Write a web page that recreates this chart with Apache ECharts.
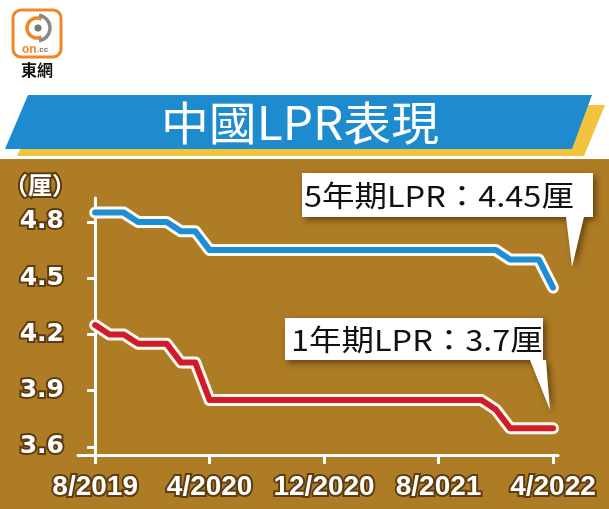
<!DOCTYPE html>
<html>
<head>
<meta charset="utf-8">
<script src="https://cdn.jsdelivr.net/npm/echarts@6/dist/echarts.min.js"></script>
<style>
html,body{margin:0;padding:0;background:#fff;}
#c{width:609px;height:509px;}
</style>
</head>
<body>
<div id="c"></div>
<script>
// ---- data ----
var months = ['2019-08','2019-09','2019-10','2019-11','2019-12','2020-01','2020-02','2020-03','2020-04',
  '2020-05','2020-06','2020-07','2020-08','2020-09','2020-10','2020-11','2020-12',
  '2021-01','2021-02','2021-03','2021-04','2021-05','2021-06','2021-07','2021-08',
  '2021-09','2021-10','2021-11','2021-12','2022-01','2022-02','2022-03','2022-04'];
var lpr5y = [4.85,4.85,4.85,4.80,4.80,4.80,4.75,4.75,4.65,
  4.65,4.65,4.65,4.65,4.65,4.65,4.65,4.65,
  4.65,4.65,4.65,4.65,4.65,4.65,4.65,4.65,
  4.65,4.65,4.65,4.65,4.60,4.60,4.60,4.45];
var lpr1y = [4.25,4.20,4.20,4.15,4.15,4.15,4.05,4.05,3.85,
  3.85,3.85,3.85,3.85,3.85,3.85,3.85,3.85,
  3.85,3.85,3.85,3.85,3.85,3.85,3.85,3.85,
  3.85,3.85,3.85,3.80,3.70,3.70,3.70,3.70];
var tickMonths = ['2019-08','2020-04','2020-12','2021-08','2022-04'];
var tickLabels = ['8/2019','4/2020','12/2020','8/2021','4/2022'];
var yTicks = [3.6,3.9,4.2,4.5,4.8];
var titleText = '中國LPR表現';
var unitText = '（厘）';
var note5y = '5年期LPR：4.45厘';
var note1y = '1年期LPR：3.7厘';

// ---- build ----
var tickIdx = tickMonths.map(function(m){ return months.indexOf(m); });
function pairs(arr){ return arr.map(function(v,i){ return [i, v]; }); }

var chart = echarts.init(document.getElementById('c'), null, {renderer:'canvas'});
var haloColor = '#5e3c10';
var option = {
  animation:false,
  backgroundColor:'#ffffff',
  grid:{left:78, right:51, top:198, bottom:54, containLabel:false},
  xAxis:{
    type:'value', min:-1.2, max:32.35,
    axisLine:{show:true, lineStyle:{color:'#fff', width:3}},
    axisTick:{show:true, customValues:tickIdx, length:9, lineStyle:{color:'#fff', width:3}},
    axisLabel:{customValues:tickIdx, margin:18,
      formatter:function(v){ var k = tickIdx.indexOf(Math.round(v)); return k>=0 ? tickLabels[k] : ''; },
      color:'#fff', fontFamily:'Liberation Sans, Arial, sans-serif', fontWeight:'bold', fontSize:28,
      textBorderColor:haloColor, textBorderWidth:4},
    splitLine:{show:false}
  },
  yAxis:{
    type:'value', min:3.557, max:4.928,
    axisLine:{show:true, lineStyle:{color:'#fff', width:3}},
    axisTick:{show:true, customValues:yTicks, length:8, lineStyle:{color:'#fff', width:3}},
    axisLabel:{customValues:yTicks, margin:14,
      formatter:function(v){ return v.toFixed(1); },
      color:'#fff', fontFamily:'DejaVu Sans, sans-serif', fontWeight:'bold', fontSize:25,
      textBorderColor:haloColor, textBorderWidth:4},
    splitLine:{show:false}
  },
  series:[
    {type:'line', data:pairs(lpr5y), symbol:'none', z:3, silent:true,
      lineStyle:{color:'#fffaf0', width:12, cap:'round', join:'round'}},
    {type:'line', data:pairs(lpr1y), symbol:'none', z:3, silent:true,
      lineStyle:{color:'#fffaf0', width:12, cap:'round', join:'round'}},
    {type:'line', name:'5年期LPR', data:pairs(lpr5y), symbol:'none', z:4,
      lineStyle:{color:'#1d8dd6', width:6, cap:'round', join:'round'}},
    {type:'line', name:'1年期LPR', data:pairs(lpr1y), symbol:'none', z:4,
      lineStyle:{color:'#d01c2a', width:6, cap:'round', join:'round'}}
  ],
  graphic:[
    // brown panel
    {type:'rect', z:-10, shape:{x:0, y:159, width:609, height:350}, style:{fill:'#ad7c25'}},
    // banner
    {type:'polygon', z:1, shape:{points:[[40,105],[605,105],[584,156],[17,156]]}, style:{fill:'#f2c43e'}},
    {type:'polygon', z:2, shape:{points:[[28,95],[592,95],[572,149],[5,149]]}, style:{fill:'#1e8bcf'}},
    {type:'text', z:3, x:300, y:123, scaleX:1.04, style:{text:titleText, x:0, y:0, align:'center', verticalAlign:'middle',
      fill:'#fff', font:'normal 46px "Noto Sans CJK TC", sans-serif'}},
    // logo
    {type:'rect', z:3, shape:{x:13, y:10, width:48, height:47, r:8}, style:{fill:'#fff', stroke:'#f0862a', lineWidth:3}},
    {type:'arc', z:4, shape:{cx:37, cy:28, r:10, startAngle:Math.PI*0.35, endAngle:Math.PI*1.65}, style:{stroke:'#f0862a', lineWidth:3.5, fill:null}},
    {type:'arc', z:4, shape:{cx:37, cy:28, r:13, startAngle:-Math.PI*0.45, endAngle:Math.PI*0.45}, style:{stroke:'#888', lineWidth:3.5, fill:null}},
    {type:'circle', z:4, shape:{cx:38, cy:28, r:3.5}, style:{fill:'#777'}},
    {type:'text', z:4, style:{text:'on', x:22, y:50, verticalAlign:'middle', fill:'#f0862a', font:'bold 12px "Liberation Sans", sans-serif'}},
    {type:'text', z:4, style:{text:'.cc', x:37, y:50, verticalAlign:'middle', fill:'#777', font:'bold 8px "Liberation Sans", sans-serif'}},
    {type:'text', z:4, style:{text:'東網', x:37, y:70, align:'center', verticalAlign:'middle', fill:'#111', font:'bold 16px "Noto Sans CJK TC", sans-serif'}},
    // unit
    {type:'text', z:5, style:{text:unitText, x:40, y:185, align:'center', verticalAlign:'middle',
      fill:'#fff', stroke:haloColor, lineWidth:4, font:'bold 24px "Noto Sans CJK TC", sans-serif'}},
    // callout 5y
    {type:'polygon', z:10, shape:{points:[[302,173],[593,173],[593,217],[584,217],[572,267],[566,217],[302,217]]},
      style:{fill:'#fff', shadowBlur:6, shadowOffsetX:3, shadowOffsetY:3, shadowColor:'rgba(40,20,0,0.55)'}},
    {type:'text', z:11, x:304, y:196, scaleX:1.12, style:{text:note5y, x:0, y:0, verticalAlign:'middle', fill:'#111',
      font:'normal 29px "Noto Sans CJK TC", sans-serif'}},
    // callout 1y
    {type:'polygon', z:10, shape:{points:[[285,318],[543,318],[543,360],[546,360],[550,410],[530,360],[285,360]]},
      style:{fill:'#fff', shadowBlur:6, shadowOffsetX:3, shadowOffsetY:3, shadowColor:'rgba(40,20,0,0.55)'}},
    {type:'text', z:11, x:291, y:340, scaleX:1.12, style:{text:note1y, x:0, y:0, verticalAlign:'middle', fill:'#111',
      font:'normal 29px "Noto Sans CJK TC", sans-serif'}}
  ]
};
chart.setOption(option);
</script>
</body>
</html>
